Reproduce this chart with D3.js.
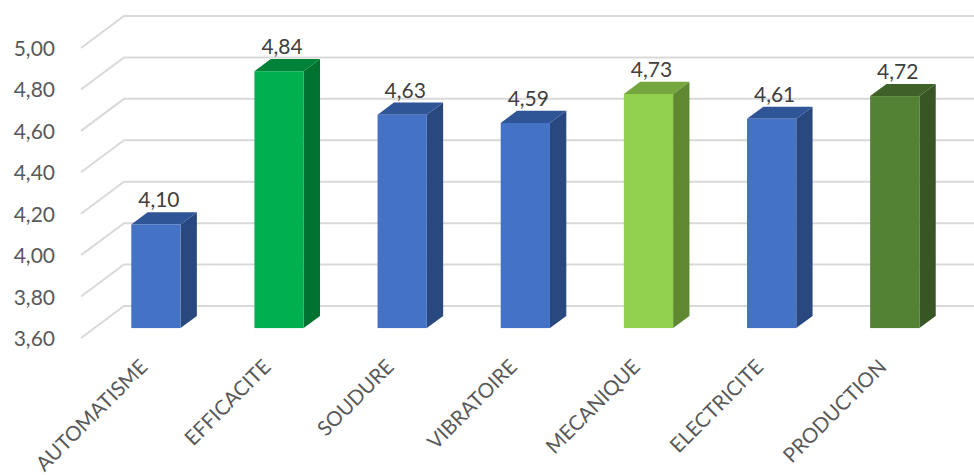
<!DOCTYPE html>
<html lang="en">
<head>
  <meta charset="UTF-8">
  <title>Scores par domaine</title>
  <script src="https://d3js.org/d3.v7.min.js"></script>
  <style>
    html, body { margin: 0; padding: 0; background: #fff; overflow: hidden; }
    svg { display: block; font-family: Lato, sans-serif; }
  </style>
</head>
<body>
  <svg width="974" height="475"></svg>
  <script>
    const categories = ["AUTOMATISME", "EFFICACITE", "SOUDURE", "VIBRATOIRE", "MECANIQUE", "ELECTRICITE", "PRODUCTION"];
    const values = [4.10, 4.84, 4.63, 4.59, 4.73, 4.61, 4.72];
    const tickValues = [3.6, 3.8, 4.0, 4.2, 4.4, 4.6, 4.8, 5.0];

    const blue = { front: "#4472c4", side: "#2a4880", top: "#2f5597" };
    const palette = {
      EFFICACITE: { front: "#00b050", side: "#00722f", top: "#008239" },
      MECANIQUE: { front: "#92d050", side: "#5f8832", top: "#76a63f" },
      PRODUCTION: { front: "#548235", side: "#375623", top: "#3f6027" }
    };

    const depthX = 43, depthY = 32;      // floor depth of the fake 3d box
    const barNear = 0.31, barFar = 0.69; // where bars sit in that depth

    const svg = d3.select("svg");
    const fmt = v => v.toFixed(2).replace(".", ",");

    const x = d3.scaleBand().domain(categories).range([81, 943]).paddingInner(0.6).paddingOuter(0.3);
    const y = d3.scaleLinear().domain([3.6, 5.0]).range([338, 48]);

    // Gridlines: side wall diagonal + back wall
    const grid = svg.append("g").attr("fill", "none").attr("stroke", "#d9d9d9").attr("stroke-width", 2);
    tickValues.forEach(t => {
      grid.append("path")
        .attr("d", `M81,${y(t)}L${81 + depthX},${y(t) - depthY}L974,${y(t) - depthY}`);
    });

    // Axis labels
    svg.append("g").selectAll("text").data(tickValues).join("text")
      .attr("x", 55)
      .attr("y", d => y(d) + 8)
      .attr("text-anchor", "end")
      .attr("font-size", 21)
      .attr("fill", "#595959")
      .text(fmt);

    // Bars
    const bars = svg.append("g").selectAll("g").data(categories).join("g");
    const col = c => palette[c] || blue;
    const val = i => values[i];

    bars.each(function(c, i) {
      const g = d3.select(this);
      const w = x.bandwidth();
      const x0 = x(c) + barNear * depthX;
      const base = y(3.6) - barNear * depthY;
      const top = y(val(i)) - barNear * depthY;
      const dx = (barFar - barNear) * depthX;
      const dy = (barFar - barNear) * depthY;

      g.append("path").attr("fill", col(c).side)
        .attr("d", `M${x0 + w},${top}l${dx},${-dy}V${base - dy}l${-dx},${dy}Z`);
      g.append("path").attr("fill", col(c).top)
        .attr("d", `M${x0},${top}l${dx},${-dy}h${w}l${-dx},${dy}Z`);
      g.append("rect").attr("fill", col(c).front)
        .attr("x", x0).attr("y", top)
        .attr("width", w).attr("height", base - top);

      // value label
      g.append("text")
        .attr("x", x0 + w / 2 + 3)
        .attr("y", top - dy - 5)
        .attr("text-anchor", "middle")
        .attr("font-size", 21)
        .attr("fill", "#404040")
        .text(fmt(val(i)));

      // category label
      g.append("text")
        .attr("transform", `translate(${x0 + w / 2 - 7},${base + 40}) rotate(-45)`)
        .attr("text-anchor", "end")
        .attr("font-size", 20.5)
        .attr("fill", "#595959")
        .text(c);
    });
  </script>
</body>
</html>
